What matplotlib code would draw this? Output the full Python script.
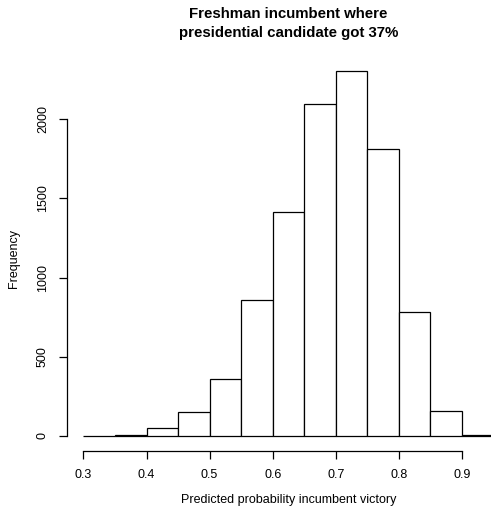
import matplotlib
matplotlib.use('Agg')
import matplotlib.pyplot as plt

# histogram counts (bins of width 0.05)
bin_left = [0.30, 0.35, 0.40, 0.45, 0.50, 0.55, 0.60, 0.65, 0.70, 0.75, 0.80, 0.85, 0.90]
counts = [1, 5, 48, 151, 363, 861, 1417, 2097, 2308, 1810, 786, 156, 4]
x_ticks = [0.3, 0.4, 0.5, 0.6, 0.7, 0.8, 0.9]
y_ticks = [0, 500, 1000, 1500, 2000]

plt.rcParams['font.family'] = ['Liberation Sans', 'DejaVu Sans']

W, H = 491, 512
fig = plt.figure(figsize=(W / 100, H / 100), dpi=100)
# plot region (R style), extends a little past the right edge like the original
left, right, top, bottom = 67, 510, 56, 450.6
ax = fig.add_axes([left / W, 1 - bottom / H, (right - left) / W, (bottom - top) / H])

ax.bar(bin_left, counts, width=0.05, align='edge', facecolor='white',
       edgecolor='black', linewidth=0.9)

ax.set_xlim(0.274, 0.976)
ax.set_ylim(-92.3, 2400)

for s in ['top', 'right']:
    ax.spines[s].set_visible(False)
ax.spines['left'].set_bounds(0, 2000)
ax.spines['bottom'].set_bounds(0.3, 0.9)
ax.spines['left'].set_linewidth(0.9)
ax.spines['bottom'].set_linewidth(0.9)

ax.set_xticks(x_ticks)
ax.set_xticklabels([str(v) for v in x_ticks])
ax.set_yticks(y_ticks)
ax.set_yticklabels([str(v) for v in y_ticks], rotation=90, va='center')
ax.tick_params(axis='both', length=6, width=0.9, labelsize=9, pad=7)

# axis titles and main title placed like R does
fig.text(288.5 / W, 1 - 500 / H, 'Predicted probability incumbent victory',
         fontsize=9, ha='center', va='center')
fig.text(14 / W, 1 - 258 / H, 'Frequency', fontsize=9, rotation=90,
         ha='center', va='center')
fig.text(288.5 / W, 1 - 14 / H, 'Freshman incumbent where',
         fontsize=10.8, fontweight='bold', ha='center', va='center')
fig.text(288.5 / W, 1 - 33 / H, 'presidential candidate got 37%',
         fontsize=10.8, fontweight='bold', ha='center', va='center')

fig.savefig('out.png', dpi=100)
